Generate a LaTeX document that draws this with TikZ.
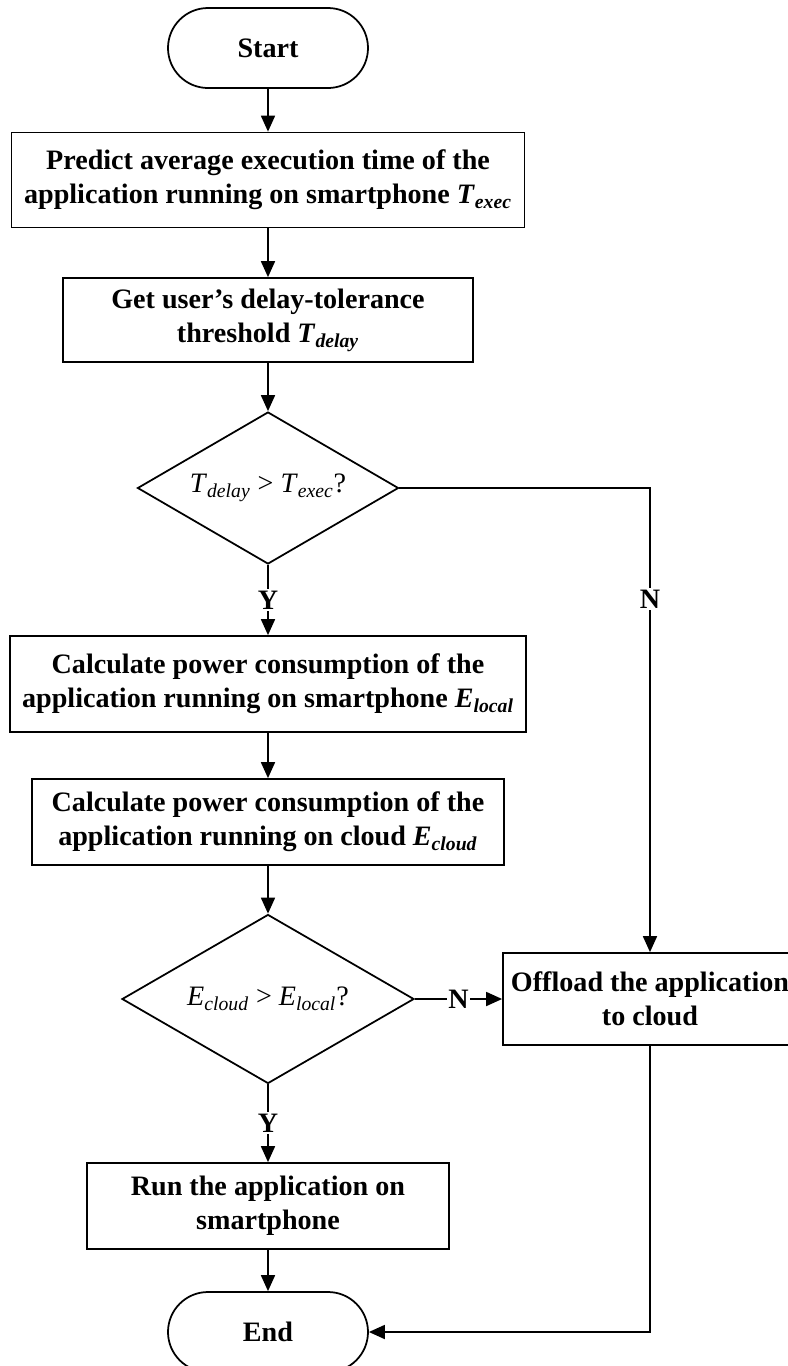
\documentclass[tikz,border=0pt]{standalone}
\usepackage{fontspec}
\setmainfont{Liberation Serif}
\usepackage{tikz}
\usetikzlibrary{arrows.meta,shapes.geometric}

\newcommand{\vsub}[2]{\textit{#1}\textsubscript{\textit{#2}}}

\begin{document}
\begin{tikzpicture}[
    every node/.style={font=\fontsize{16}{19.5}\selectfont\bfseries, align=center},
    term/.style={draw, line width=1pt, rectangle, rounded corners=0.8cm,
      minimum width=4cm, minimum height=1.6cm},
    proc/.style={draw, line width=1pt, rectangle, inner sep=0pt},
    cond/.style={draw, line width=1pt, diamond, inner sep=0pt, aspect=1.7,
      font=\fontsize{16}{19.5}\selectfont},
    arr/.style={line width=1pt, -{Triangle[width=0.28cm,length=0.32cm]}},
    lbl/.style={fill=white, inner sep=1pt}
  ]
    \useasboundingbox (0,0) rectangle (15.76,-27.32);
    \clip (0,0) rectangle (15.76,-27.32);
    % Main column
    \node[term] (start) at (5.36,-0.96) {Start};
    \node[proc, minimum width=10.26cm, minimum height=1.9cm] (predict) at (5.36,-3.6)
      {Predict average execution time of the\\application running on smartphone \vsub{T}{exec}};
    \node[proc, minimum width=8.2cm, minimum height=1.68cm] (get) at (5.36,-6.4)
      {Get user's delay-tolerance\\threshold \vsub{T}{delay}};
    \node[cond, minimum width=5.22cm, minimum height=3.04cm] (tcheck) at (5.36,-9.76)
      {\vsub{T}{delay} > \vsub{T}{exec}?};
    \node[proc, minimum width=10.32cm, minimum height=1.92cm] (elocal) at (5.36,-13.68)
      {Calculate power consumption of the\\application running on smartphone \vsub{E}{local}};
    \node[proc, minimum width=9.44cm, minimum height=1.72cm] (ecloud) at (5.36,-16.44)
      {Calculate power consumption of the\\application running on cloud \vsub{E}{cloud}};
    \node[cond, minimum width=5.84cm, minimum height=3.38cm] (echeck) at (5.36,-19.98)
      {\vsub{E}{cloud} > \vsub{E}{local}?};
    \node[proc, minimum width=7.24cm, minimum height=1.72cm] (runlocal) at (5.36,-24.12)
      {Run the application on\\smartphone};
    \node[term] (end) at (5.36,-26.64) {End};
    % Offload branch
    \node[proc, minimum width=5.88cm, minimum height=1.84cm] (offload) at (13.0,-19.98)
      {Offload the application\\to cloud};
    % Connectors
    \draw[arr] (start) -- (predict);
    \draw[arr] (predict) -- (get);
    \draw[arr] (get) -- (tcheck);
    \draw[arr] (tcheck) -- node[lbl] {Y} (elocal);
    \draw[arr] (elocal) -- (ecloud);
    \draw[arr] (ecloud) -- (echeck);
    \draw[arr] (echeck) -- node[lbl] {Y} (runlocal);
    \draw[arr] (runlocal) -- (end);
    \draw[arr] (tcheck.east) -| node[lbl, pos=0.62] {N} (offload.north);
    \draw[arr] (echeck.east) -- node[lbl] {N} (offload.west);
    \draw[arr] (offload.south) |- (end.east);
\end{tikzpicture}
\end{document}
